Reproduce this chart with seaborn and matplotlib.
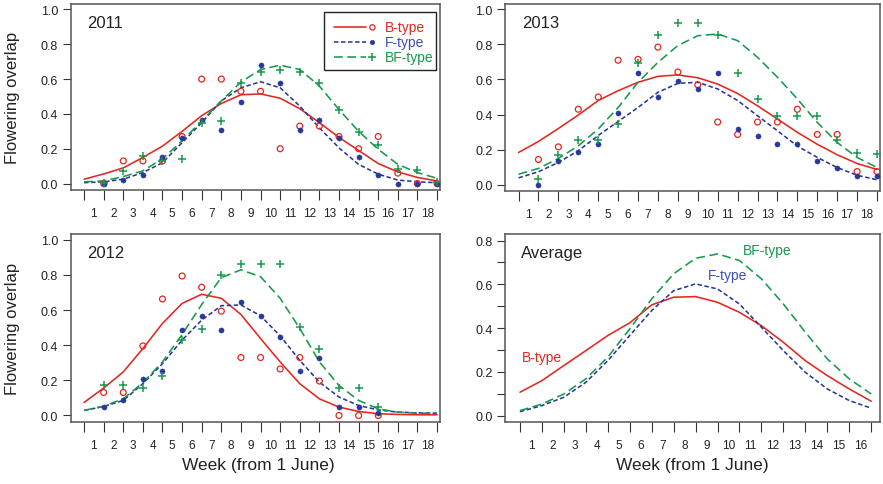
import matplotlib
matplotlib.use("Agg")
import matplotlib.pyplot as plt
from matplotlib.patches import Rectangle
import numpy as np
import pandas as pd
import seaborn as sns

sns.set_theme(style="white")
plt.rcParams["font.family"] = ["Liberation Sans Narrow", "Liberation Sans", "DejaVu Sans"]

# ---------------------------------------------------------------- data
obs_weeks = list(range(1, 19))
fit_weeks = list(range(0, 19))
avg_weeks = list(range(0, 17))

# 2011 observations and fitted curves
b_obs_2011 = [0.0, 0.13, 0.13, 0.13, 0.27, 0.60, 0.60, 0.53, 0.53, 0.20, 0.33, 0.33, 0.27, 0.20, 0.27, 0.06, 0.0, 0.0]
f_obs_2011 = [0.0, 0.02, 0.05, 0.155, 0.26, 0.365, 0.31, 0.47, 0.68, 0.58, 0.31, 0.365, 0.26, 0.155, 0.05, 0.0, 0.0, 0.0]
bf_obs_2011 = [0.005, 0.07, 0.16, 0.13, 0.14, 0.345, 0.36, 0.575, 0.64, 0.65, 0.64, 0.575, 0.425, 0.295, 0.22, 0.086, 0.08, 0.01]
b_fit_2011 = [0.025, 0.055, 0.09, 0.15, 0.215, 0.30, 0.39, 0.46, 0.51, 0.515, 0.49, 0.43, 0.35, 0.265, 0.19, 0.115, 0.067, 0.035, 0.015]
f_fit_2011 = [0.005, 0.01, 0.025, 0.063, 0.12, 0.235, 0.35, 0.475, 0.55, 0.585, 0.55, 0.445, 0.32, 0.205, 0.11, 0.054, 0.02, 0.01, 0.005]
bf_fit_2011 = [0.01, 0.015, 0.04, 0.073, 0.143, 0.245, 0.36, 0.475, 0.583, 0.655, 0.68, 0.655, 0.56, 0.425, 0.30, 0.197, 0.11, 0.063, 0.03]

# 2013 observations and fitted curves
b_obs_2013 = [0.143, 0.215, 0.43, 0.50, 0.71, 0.715, 0.785, 0.643, 0.57, 0.357, 0.286, 0.357, 0.357, 0.43, 0.286, 0.286, 0.074, 0.074]
f_obs_2013 = [0.0, 0.134, 0.183, 0.23, 0.41, 0.635, 0.50, 0.59, 0.546, 0.635, 0.32, 0.275, 0.23, 0.23, 0.137, 0.092, 0.046, 0.046]
bf_obs_2013 = [0.034, 0.17, 0.255, 0.255, 0.347, 0.695, 0.853, 0.925, 0.925, 0.853, 0.635, 0.487, 0.393, 0.393, 0.393, 0.252, 0.181, 0.172]
b_fit_2013 = [0.183, 0.246, 0.32, 0.397, 0.48, 0.536, 0.584, 0.618, 0.626, 0.61, 0.574, 0.52, 0.45, 0.374, 0.298, 0.23, 0.17, 0.12, 0.086]
f_fit_2013 = [0.038, 0.073, 0.126, 0.193, 0.28, 0.36, 0.44, 0.527, 0.578, 0.584, 0.546, 0.48, 0.393, 0.307, 0.22, 0.155, 0.097, 0.053, 0.027]
bf_fit_2013 = [0.059, 0.092, 0.149, 0.221, 0.317, 0.44, 0.584, 0.698, 0.794, 0.85, 0.86, 0.822, 0.727, 0.613, 0.489, 0.355, 0.24, 0.155, 0.097]

# 2012 observations (weeks 1-15) and fitted curves
b_obs_2012 = [0.131, 0.131, 0.396, 0.663, 0.794, 0.73, 0.594, 0.33, 0.33, 0.265, 0.33, 0.196, 0.0, 0.0, 0.0]
f_obs_2012 = [0.05, 0.09, 0.21, 0.251, 0.488, 0.568, 0.488, 0.648, 0.568, 0.448, 0.251, 0.33, 0.05, 0.05, 0.013]
bf_obs_2012 = [0.171, 0.171, 0.156, 0.225, 0.429, 0.495, 0.80, 0.861, 0.861, 0.861, 0.505, 0.377, 0.156, 0.156, 0.046]
b_fit_2012 = [0.074, 0.156, 0.248, 0.381, 0.524, 0.638, 0.69, 0.667, 0.575, 0.438, 0.305, 0.181, 0.095, 0.048, 0.023, 0.01, 0.006, 0.004, 0.004]
f_fit_2012 = [0.029, 0.051, 0.086, 0.181, 0.295, 0.429, 0.543, 0.625, 0.629, 0.568, 0.453, 0.314, 0.19, 0.105, 0.057, 0.032, 0.019, 0.015, 0.013]
bf_fit_2012 = [0.029, 0.053, 0.095, 0.187, 0.305, 0.461, 0.632, 0.785, 0.829, 0.79, 0.667, 0.495, 0.305, 0.171, 0.086, 0.038, 0.019, 0.013, 0.013]

# Average fitted curves
b_fit_avg = [0.107, 0.16, 0.229, 0.297, 0.366, 0.424, 0.506, 0.541, 0.544, 0.518, 0.472, 0.411, 0.335, 0.251, 0.183, 0.122, 0.066]
f_fit_avg = [0.018, 0.046, 0.084, 0.152, 0.251, 0.366, 0.48, 0.571, 0.602, 0.579, 0.51, 0.404, 0.297, 0.198, 0.122, 0.069, 0.034]
bf_fit_avg = [0.023, 0.053, 0.099, 0.168, 0.267, 0.396, 0.533, 0.648, 0.719, 0.739, 0.709, 0.625, 0.51, 0.381, 0.259, 0.168, 0.099]

types = ["B-type", "F-type", "BF-type"]

# ---------------------------------------------------------------- styling
RED = "#e3261f"
BLUE = "#27389a"
GREEN = "#17994a"
TXT_BLUE = "#3d4fb5"
FRAME = "#555555"
LW = 1.15
line_styles = {
    "B-type": dict(color=RED, linestyle="-"),
    "F-type": dict(color=BLUE, linestyle=(0, (2.8, 1.6))),
    "BF-type": dict(color=GREEN, linestyle=(0, (5.5, 2.8))),
}
marker_styles = {
    "B-type": dict(marker="o", s=18, color=RED, facecolor="none", edgecolor=RED, linewidth=0.9),
    "F-type": dict(marker="o", s=14, color=BLUE, edgecolor=BLUE, linewidth=0.3),
    "BF-type": dict(marker="+", s=40, color=GREEN, linewidth=1.1),
}
text_colors = {"B-type": RED, "F-type": TXT_BLUE, "BF-type": GREEN}

W, H = 883, 485
fig = plt.figure(figsize=(W / 100, H / 100), dpi=100)


def add_axes(left, right, top, bottom):
    return fig.add_axes([left / W, 1 - bottom / H, (right - left) / W, (bottom - top) / H])


def style_axes(ax, nweeks, ylim, yticks, yminor=None):
    ax.set_xlim(-0.68, nweeks + 0.15 if nweeks == 18 else nweeks + 0.4)
    ax.set_ylim(*ylim)
    ax.set_xticks(np.arange(0, nweeks + 1))
    ax.set_xticklabels([])
    ax.set_xticks(np.arange(0.5, nweeks), minor=True)
    ax.set_xticklabels([str(i) for i in range(1, nweeks + 1)], minor=True)
    ax.tick_params(axis="x", which="major", direction="out", length=7, width=0.8,
                   color="#333333", bottom=True)
    ax.tick_params(axis="x", which="minor", length=0, pad=12, labelsize=8.5,
                   labelcolor="#222222", bottom=True)
    ax.set_yticks(yticks)
    ax.set_yticklabels([f"{v:.1f}" for v in yticks])
    if yminor is not None:
        ax.set_yticks(yminor, minor=True)
    ax.tick_params(axis="y", which="both", direction="out", length=6, width=0.8,
                   color="#333333", left=True, pad=3, labelsize=9, labelcolor="#222222")
    for sp in ax.spines.values():
        sp.set_color(FRAME)
        sp.set_linewidth(1.1)
    ax.set_xlabel("")
    ax.set_ylabel("")
    ax.grid(False)


def draw_year(ax, fits, obs, nobs):
    for t in types:
        df_fit = pd.DataFrame({"week": fit_weeks, "overlap": fits[t]})
        sns.lineplot(data=df_fit, x="week", y="overlap", ax=ax, lw=LW,
                     errorbar=None, legend=False, zorder=2, **line_styles[t])
    for t in types:
        df_obs = pd.DataFrame({"week": obs_weeks[:nobs], "overlap": obs[t]})
        sns.scatterplot(data=df_obs, x="week", y="overlap", ax=ax, legend=False,
                        zorder=3, **marker_styles[t])


panels = [
    ("2011", (70.7, 440, 4.7, 191), {"B-type": b_fit_2011, "F-type": f_fit_2011, "BF-type": bf_fit_2011},
     {"B-type": b_obs_2011, "F-type": f_obs_2011, "BF-type": bf_obs_2011}, 18),
    ("2013", (505, 880, 4.7, 192), {"B-type": b_fit_2013, "F-type": f_fit_2013, "BF-type": bf_fit_2013},
     {"B-type": b_obs_2013, "F-type": f_obs_2013, "BF-type": bf_obs_2013}, 18),
    ("2012", (70.7, 440, 235, 423), {"B-type": b_fit_2012, "F-type": f_fit_2012, "BF-type": bf_fit_2012},
     {"B-type": b_obs_2012, "F-type": f_obs_2012, "BF-type": bf_obs_2012}, 15),
]

axes = {}
for name, box, fits, obs, nobs in panels:
    ax = add_axes(*box)
    draw_year(ax, fits, obs, nobs)
    style_axes(ax, 18, (-0.037, 1.033), [0.0, 0.2, 0.4, 0.6, 0.8, 1.0])
    ax.text(0.045, 0.90, name, transform=ax.transAxes, fontsize=12,
            color="#222222", va="center", ha="left")
    axes[name] = ax

# Legend box in the 2011 panel
ax = axes["2011"]
ax.add_patch(Rectangle((0.686, 0.644), 0.302, 0.31, transform=ax.transAxes,
                       facecolor="white", edgecolor="#222222", lw=1.0, zorder=5))
for t, yy in zip(types, [0.873, 0.793, 0.716]):
    ax.plot([0.713, 0.800], [yy, yy], transform=ax.transAxes, lw=LW, zorder=6,
            **line_styles[t])
    ms = dict(marker_styles[t])
    ax.scatter([0.817], [yy], transform=ax.transAxes, zorder=6,
               marker=ms["marker"], s=ms["s"] * 0.8, facecolor=ms.get("facecolor", ms["color"]),
               edgecolor=ms.get("edgecolor", ms["color"]) if t != "BF-type" else None,
               color=None if t != "BF-type" else ms["color"], linewidth=ms["linewidth"])
    ax.text(0.851, yy, t, transform=ax.transAxes, fontsize=10, color=text_colors[t],
            va="center", ha="left", zorder=6)

# Average panel
ax = add_axes(505, 880, 235, 423)
for t, vals in zip(types, [b_fit_avg, f_fit_avg, bf_fit_avg]):
    df_avg = pd.DataFrame({"week": avg_weeks, "overlap": vals})
    sns.lineplot(data=df_avg, x="week", y="overlap", ax=ax, lw=LW,
                 errorbar=None, legend=False, **line_styles[t])
style_axes(ax, 16, (-0.029, 0.83), [0.0, 0.2, 0.4, 0.6, 0.8],
           yminor=[0.1, 0.3, 0.5, 0.7])
ax.text(0.042, 0.899, "Average", transform=ax.transAxes, fontsize=12,
        color="#222222", va="center", ha="left")
ax.text(0.635, 0.916, "BF-type", transform=ax.transAxes, fontsize=10, color=GREEN,
        va="center", ha="left")
ax.text(0.54, 0.78, "F-type", transform=ax.transAxes, fontsize=10, color=TXT_BLUE,
        va="center", ha="left")
ax.text(0.045, 0.346, "B-type", transform=ax.transAxes, fontsize=10, color=RED,
        va="center", ha="left")

# Shared axis titles
for yc in [(4.7 + 191) / 2, (235 + 423) / 2]:
    fig.text(13 / W, 1 - yc / H, "Flowering overlap", rotation=90, fontsize=12,
             color="#222222", ha="center", va="center")
for xc in [258, 692]:
    fig.text(xc / W, 1 - 466 / H, "Week (from 1 June)", fontsize=12.5,
             color="#222222", ha="center", va="center")

fig.savefig("out.png", dpi=100)
